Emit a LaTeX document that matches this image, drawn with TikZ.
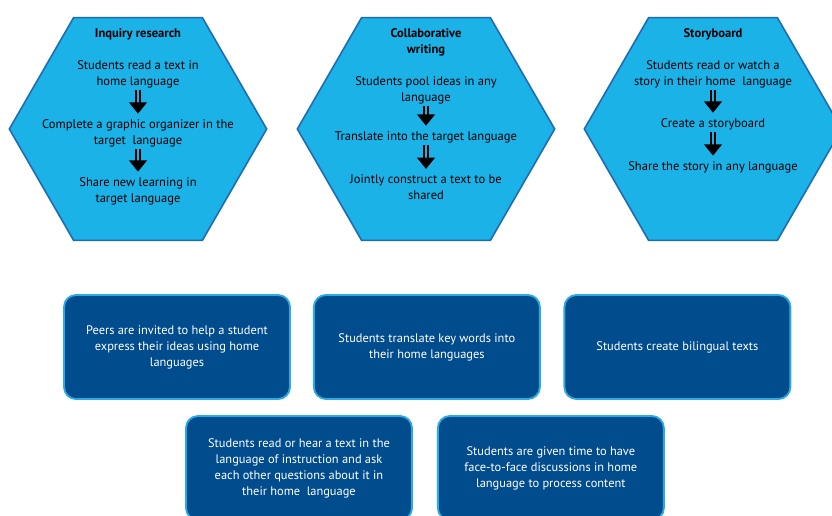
\documentclass[tikz,border=0pt]{standalone}
\usepackage{fontspec}
\setmainfont{PT Sans}
\usetikzlibrary{arrows.meta, positioning, shapes.geometric}

\definecolor{hexfill}{RGB}{27,178,232}
\definecolor{hexline}{RGB}{32,108,178}
\definecolor{boxfill}{RGB}{0,76,140}
\definecolor{boxline}{RGB}{45,170,225}

\begin{document}
\begin{tikzpicture}[
    x=0.75pt, y=-0.75pt,
    hexagon/.style={regular polygon, regular polygon sides=6, minimum size=193pt, inner sep=0pt,
                    draw=hexline, fill=hexfill, line width=1.2pt},
    hextext/.style={align=center, inner sep=0pt, font=\fontsize{9.4}{12}\selectfont},
    hextitle/.style={hextext, font=\bfseries\fontsize{9.4}{12}\selectfont},
    flow/.style={draw=black, double=hexfill, double distance=2.2pt, line width=1.1pt,
                 -{Triangle[length=8.5pt,width=13.5pt]}, shorten <=1.5pt, shorten >=4pt},
    card/.style={rectangle, rounded corners=9pt, draw=boxline, line width=1.4pt, fill=boxfill,
                 text=white, minimum width=169.5pt, minimum height=78pt, align=center,
                 font=\fontsize{9.3}{12}\selectfont},
]
\useasboundingbox (0,0) rectangle (832,515);

% hexagons
\node[hexagon] (inq) at (138,129) {};
\node[hexagon] (col) at (426,129) {};
\node[hexagon] (sto) at (713,129) {};

% inquiry research
\node[hextitle] (inqT) at (138,34) {Inquiry research};
\node[hextext] (inqA) at (138,74) {Students read a text in\\home language};
\node[hextext] (inqB) at (138,133) {Complete a graphic organizer in the\\target\ \ language};
\node[hextext] (inqC) at (138,191) {Share new learning in\\target language};
\draw[flow] (inqA) -- (inqB);
\draw[flow] (inqB) -- (inqC);

% collaborative writing
\node[hextitle] (colT) at (426,42) {Collaborative\\writing};
\node[hextext] (colA) at (426,90) {Students pool ideas in any\\language};
\node[hextext] (colB) at (426,137) {Translate into the target language};
\node[hextext] (colC) at (426,187) {Jointly construct a text to be\\shared};
\draw[flow] (colA) -- (colB);
\draw[flow] (colB) -- (colC);

% storyboard
\node[hextitle] (stoT) at (713,34) {Storyboard};
\node[hextext] (stoA) at (713,74) {Students read or watch a\\story in their home\ \ language};
\node[hextext] (stoB) at (713,124) {Create a storyboard};
\node[hextext] (stoC) at (713,167) {Share the story in any language};
\draw[flow] (stoA) -- (stoB);
\draw[flow] (stoB) -- (stoC);

% strategy cards
\node[card] (peers) at (177,347) {Peers are invited to help a student\\express their ideas using home\\languages};
\node[card, right=16.5pt of peers] (keywords) {Students translate key words into\\their home languages};
\node[card, right=17pt of keywords] (bilingual) {Students create bilingual texts};
\node[card] (questions) at (299,468) {Students read or hear a text in the\\language of instruction and ask\\each other questions about it in\\their home\ \ language};
\node[card, right=18pt of questions] (discuss) {Students are given time to have\\face-to-face discussions in home\\language to process content};
\end{tikzpicture}
\end{document}
